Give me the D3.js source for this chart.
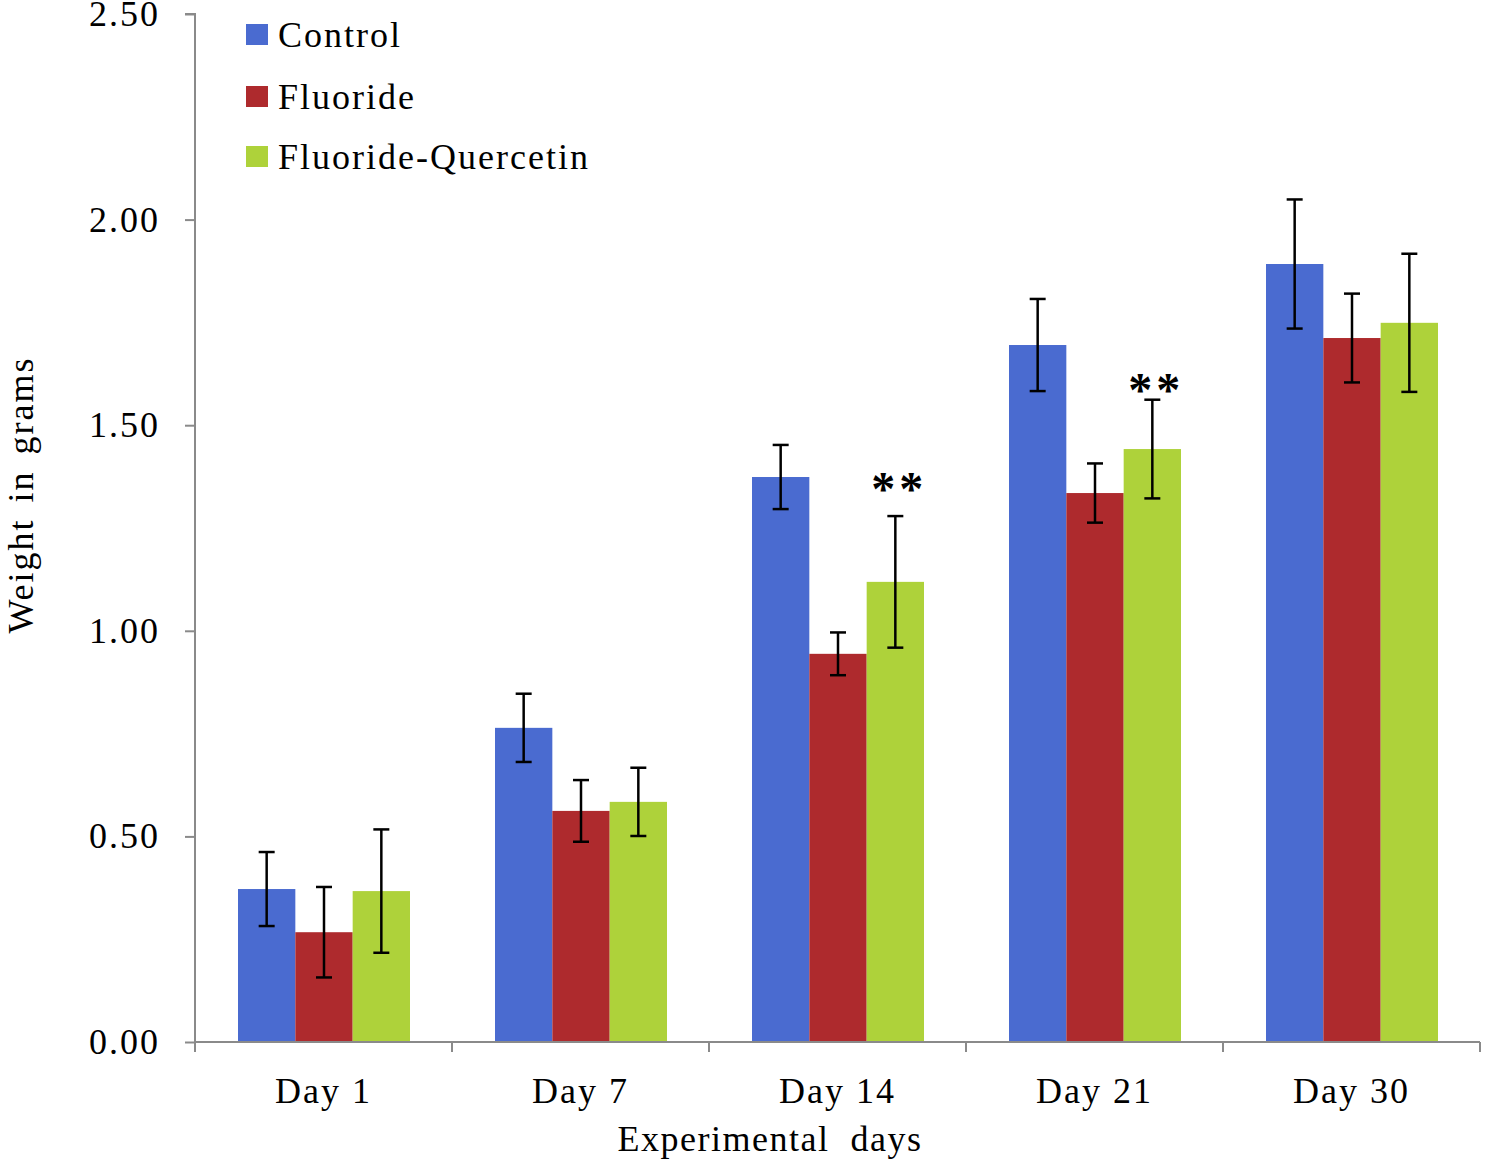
<!DOCTYPE html>
<html><head><meta charset="utf-8">
<script src="https://cdn.jsdelivr.net/npm/d3@7"></script>
<style>body{margin:0;background:#fff}text{font-family:"Liberation Serif","Times New Roman",serif;fill:#000}</style>
</head><body>
<svg id="c" width="1485" height="1169"></svg>
<script>
const categories = ["Day 1","Day 7","Day 14","Day 21","Day 30"];
const seriesNames = ["Control","Fluoride","Fluoride-Quercetin"];
const seriesColors = ["#4A6BD0","#AE2A2D","#AED23A"];
const control = [0.372, 0.764, 1.374, 1.695, 1.892];
const controlErr = [0.09, 0.083, 0.078, 0.112, 0.157];
const fluoride = [0.267, 0.562, 0.944, 1.335, 1.712];
const fluorideErr = [0.11, 0.075, 0.052, 0.072, 0.108];
const fq = [0.367, 0.584, 1.119, 1.442, 1.749];
const fqErr = [0.15, 0.083, 0.16, 0.12, 0.168];
const stars = ["", "", "**", "**", ""];
const starLevels = [null, null, 1.36, 1.60, null];
const yTicks = [0, 0.5, 1.0, 1.5, 2.0, 2.5];

const values = [control, fluoride, fq];
const errs = [controlErr, fluorideErr, fqErr];

const svg = d3.select("#c");
const L = 195, R = 1480, T = 14, B = 1042;
const x = d3.scaleBand().domain(categories).range([L, R]).paddingInner(0).paddingOuter(0);
const x1 = d3.scaleBand().domain(seriesNames).range([43, x.bandwidth() - 42]).padding(0);
const y = d3.scaleLinear().domain([0, 2.5]).range([B, T]);

// bars
seriesNames.forEach((s, si) => {
  svg.append("g").selectAll("rect").data(categories).join("rect")
    .attr("x", (c) => x(c) + x1(s))
    .attr("y", (c, i) => y(values[si][i]))
    .attr("width", x1.bandwidth())
    .attr("height", (c, i) => B - y(values[si][i]))
    .attr("fill", seriesColors[si]);
});
// error bars
seriesNames.forEach((s, si) => {
  const g = svg.append("g").attr("stroke", "#000").attr("stroke-width", 2.5);
  categories.forEach((c, i) => {
    const cx = x(c) + x1(s) + x1.bandwidth() / 2;
    const v = values[si][i], e = errs[si][i];
    g.append("line").attr("x1", cx).attr("x2", cx).attr("y1", y(v + e)).attr("y2", y(v - e));
    [v + e, v - e].forEach(t => g.append("line").attr("x1", cx - 8).attr("x2", cx + 8).attr("y1", y(t)).attr("y2", y(t)));
  });
});
// stars
categories.forEach((c, i) => {
  if (!stars[i]) return;
  const cx = x(c) + x1("Fluoride-Quercetin") + x1.bandwidth() / 2;
  svg.append("text").attr("x", cx + 4).attr("y", y(starLevels[i]) + 22).attr("text-anchor", "middle")
    .style("font-size", "48px").style("font-weight", "bold").style("letter-spacing", "4px").text(stars[i]);
});

// y axis
const yAxis = svg.append("g").attr("transform", `translate(${L},0)`)
  .call(d3.axisLeft(y).tickValues(yTicks).tickFormat(d3.format(".2f")).tickSize(10).tickPadding(25));
yAxis.select(".domain").attr("stroke", "#8a8a8a").attr("stroke-width", 2).attr("d", `M-10,${T}H0V${B}`);
yAxis.selectAll(".tick line").attr("stroke", "#8a8a8a").attr("stroke-width", 2);
yAxis.selectAll(".tick text").style("font-size", "36px").style("letter-spacing", "2px").attr("fill", "#000");

// x axis
const xAxis = svg.append("g").attr("transform", `translate(0,${B})`)
  .call(d3.axisBottom(x).tickSize(0).tickPadding(35));
xAxis.select(".domain").attr("stroke", "#8a8a8a").attr("stroke-width", 2).attr("d", `M${L},0H${R}`);
xAxis.selectAll(".tick text").style("font-size", "36px").style("letter-spacing", "2px").attr("fill", "#000");
const bounds = categories.map(c => x(c)).concat([R]);
xAxis.append("g").selectAll("line").data(bounds).join("line")
  .attr("x1", d => d).attr("x2", d => d).attr("y1", 0).attr("y2", 10)
  .attr("stroke", "#8a8a8a").attr("stroke-width", 2);

// axis titles
svg.append("text").attr("x", 770).attr("y", 1151).attr("text-anchor", "middle")
  .style("font-size", "36px").style("letter-spacing", "1.5px").style("white-space", "pre").text("Experimental  days");
svg.append("text").attr("transform", "translate(33,495) rotate(-90)").attr("text-anchor", "middle")
  .style("font-size", "36px").style("letter-spacing", "2px").style("word-spacing", "5px").text("Weight in grams");

// legend
const leg = svg.append("g");
const legBase = [47, 109, 169];
seriesNames.forEach((s, i) => {
  leg.append("rect").attr("x", 246).attr("y", legBase[i] - 23).attr("width", 22).attr("height", 21).attr("fill", seriesColors[i]);
  leg.append("text").attr("x", 278).attr("y", legBase[i]).style("font-size", "36px").style("letter-spacing", "2px").text(s);
});
</script>
</body></html>
